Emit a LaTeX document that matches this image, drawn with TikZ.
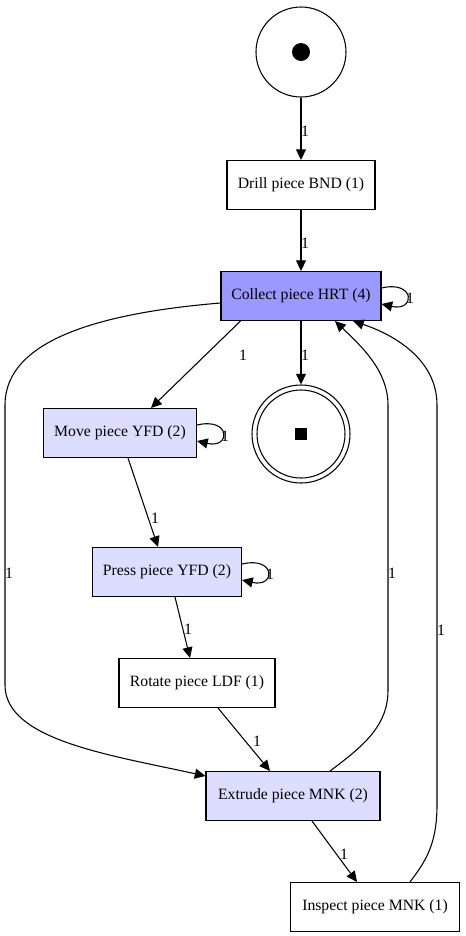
\documentclass[tikz,border=0pt]{standalone}
\usepackage{fontspec}
\setmainfont{Liberation Serif}
\usetikzlibrary{arrows.meta,calc}
\definecolor{hot}{RGB}{153,153,255}
\definecolor{warm}{RGB}{221,221,255}
\begin{document}
\begin{tikzpicture}[x=0.75pt,y=-0.75pt,
  font=\fontsize{11.8pt}{13pt}\selectfont,
  box/.style={draw,line width=0.8pt,inner sep=0pt,minimum height=36.75pt},
  edge/.style={line width=0.8pt,-{Triangle[length=8pt,width=7.5pt]}},
  lbl/.style={inner sep=0pt}]
\useasboundingbox (0,0) rectangle (465,936);
% places
\node[draw,circle,line width=0.8pt,minimum size=67.5pt,inner sep=0pt] (start) at (301,52) {};
\node[circle,fill=black,minimum size=13.5pt,inner sep=0pt] (startdot) at (301,52) {};
\node[draw,circle,line width=0.8pt,minimum size=73.5pt,inner sep=0pt] (end) at (301,434) {};
\node[draw,circle,line width=0.8pt,minimum size=66pt,inner sep=0pt] (endin) at (301,434) {};
\node[fill=black,minimum size=9pt,inner sep=0pt] (endsq) at (301,434) {};
% transitions
\node[box,minimum width=111pt] (drill) at (301,185) {Drill piece BND (1)};
\node[box,fill=hot,minimum width=120pt] (collect) at (301,296) {Collect piece HRT (4)};
\node[box,fill=warm,minimum width=114.75pt] (move) at (120,433) {Move piece YFD (2)};
\node[box,fill=warm,minimum width=111.75pt] (press) at (167,572) {Press piece YFD (2)};
\node[box,minimum width=117pt] (rotate) at (197,683) {Rotate piece LDF (1)};
\node[box,fill=warm,minimum width=130.5pt] (extrude) at (293,796) {Extrude piece MNK (2)};
\node[box,minimum width=126.75pt] (inspect) at (375,907) {Inspect piece MNK (1)};
% edges
\draw[edge] (start) -- (drill);
\node[lbl] (l1) at (305,131) {1};
\draw[edge] (drill) -- (collect);
\node[lbl] (l2) at (305,243) {1};
\draw[edge] ($(collect.east)+(0,-8)$) .. controls +(34,-8) and +(34,8) .. ($(collect.east)+(0,8)$);
\node[lbl] (l3) at (410,298) {1};
\draw[edge] (collect) -- (end);
\node[lbl] (l4) at (305,355) {1};
\draw[edge] ($(collect.south west)+(20,0)$) -- ($(move.north)+(31,0)$);
\node[lbl] (l5) at (243,355) {1};
\draw[edge] ($(move.east)+(0,-8)$) .. controls +(34,-8) and +(34,8) .. ($(move.east)+(0,8)$);
\node[lbl] (l6) at (225,436) {1};
\draw[edge] ($(move.south)+(8,0)$) -- ($(press.north)+(-9,0)$);
\node[lbl] (l7) at (155,518) {1};
\draw[edge] ($(press.east)+(0,-8)$) .. controls +(34,-8) and +(34,8) .. ($(press.east)+(0,8)$);
\node[lbl] (l8) at (270,574) {1};
\draw[edge] ($(press.south)+(8,0)$) -- ($(rotate.north)+(-7,0)$);
\node[lbl] (l9) at (188,629) {1};
\draw[edge] ($(rotate.south)+(21,0)$) -- ($(extrude.north)+(-23,0)$);
\node[lbl] (l10) at (257,741) {1};
\draw[edge] ($(collect.west)+(0,7)$) .. controls (100,313) and (5,340) .. (5,405) -- (5,685) .. controls (5,740) and (110,755) .. ($(extrude.west)+(0,-20)$);
\node[lbl] (l11) at (9,573) {1};
\draw[edge] ($(extrude.north)+(37,0)$) .. controls (365,745) and (388,725) .. (388,690) -- (388,405) .. controls (388,370) and (360,345) .. ($(collect.south)+(34,0)$);
\node[lbl] (l12) at (392,573) {1};
\draw[edge] ($(extrude.south)+(19,0)$) -- ($(inspect.north)+(-18,0)$);
\node[lbl] (l13) at (344,854) {1};
\draw[edge] ($(inspect.north)+(35,0)$) .. controls (425,862) and (437,845) .. (437,805) -- (437,405) .. controls (437,360) and (395,335) .. ($(collect.south)+(52,0)$);
\node[lbl] (l14) at (441,630) {1};
\end{tikzpicture}
\end{document}
